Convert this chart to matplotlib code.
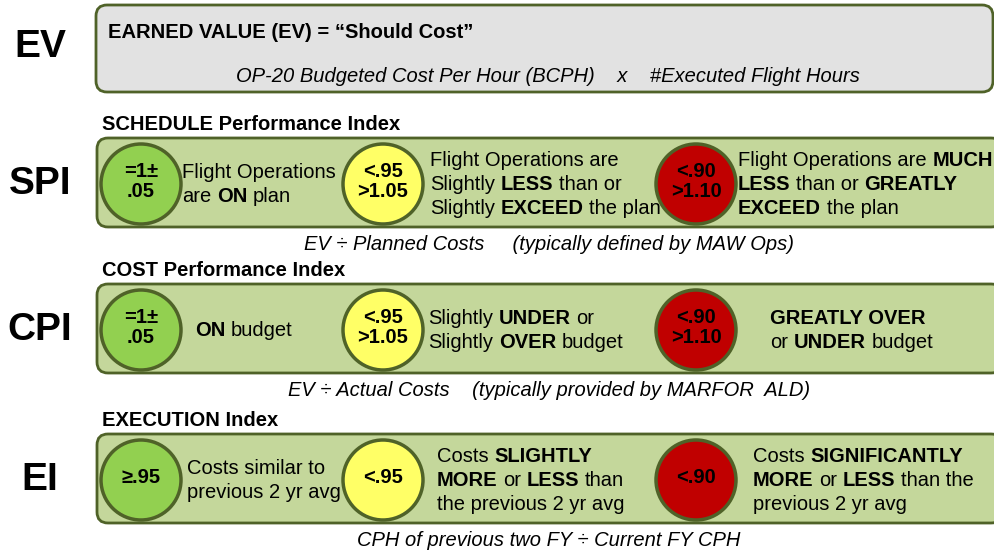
import matplotlib
matplotlib.use("Agg")
import matplotlib.pyplot as plt
from matplotlib.patches import FancyBboxPatch, Circle

plt.rcParams['font.family'] = ['Liberation Sans', 'DejaVu Sans']

# contenido del diagrama
ev_title = 'EARNED VALUE (EV) = \u201cShould Cost\u201d'
ev_formula = 'OP-20 Budgeted Cost Per Hour (BCPH)    x    #Executed Flight Hours'
row_labels = ['SPI', 'CPI', 'EI']
headers = ['SCHEDULE Performance Index', 'COST Performance Index', 'EXECUTION Index']
captions = ['EV \u00f7 Planned Costs     (typically defined by MAW Ops)',
            'EV \u00f7 Actual Costs    (typically provided by MARFOR  ALD)',
            'CPH of previous two FY \u00f7 Current FY CPH']
thresholds = [['=1\u00b1\n.05', '<.95\n>1.05', '<.90\n>1.10'],
              ['=1\u00b1\n.05', '<.95\n>1.05', '<.90\n>1.10'],
              ['\u2265.95', '<.95', '<.90']]
status_colors = ['#92D050', '#FFFF66', '#C00000']
descriptions = [
    [['Flight Operations', 'are **ON** plan'],
     ['Flight Operations are', 'Slightly **LESS** than or', 'Slightly **EXCEED** the plan'],
     ['Flight Operations are **MUCH**', '**LESS** than or **GREATLY**', '**EXCEED** the plan']],
    [['**ON** budget'],
     ['Slightly **UNDER** or', 'Slightly **OVER** budget'],
     ['**GREATLY OVER**', 'or **UNDER** budget']],
    [['Costs similar to', 'previous 2 yr avg'],
     ['Costs **SLIGHTLY**', '**MORE** or **LESS** than', 'the previous 2 yr avg'],
     ['Costs **SIGNIFICANTLY**', '**MORE** or **LESS** than the', 'previous 2 yr avg']],
]

# geometria (pixeles)
box_tops = [138, 284, 434]
box_h = 89
circle_x = [141, 383, 696]
text_x = [[182, 430, 738], [195, 428, 770], [187, 437, 753]]
edge = '#4F6228'

fig = plt.figure(figsize=(9.95, 5.56), dpi=100)
ax = fig.add_axes([0, 0, 1, 1])
ax.set_xlim(0, 995)
ax.set_ylim(556, 0)
ax.axis('off')
renderer = fig.canvas.get_renderer()


def text_width(s, size, bold):
    t = ax.text(0, 0, s, fontsize=size, fontweight='bold' if bold else 'normal')
    w = t.get_window_extent(renderer).width
    t.remove()
    return w


def rich_line(x, y, line, size):
    parts = line.split('**')
    space = text_width('a a', size, False) - text_width('aa', size, False)
    for i, part in enumerate(parts):
        if not part:
            continue
        bold = i % 2 == 1
        lead = len(part) - len(part.lstrip(' '))
        x += lead * space
        core = part.strip(' ')
        if core:
            t = ax.text(x, y, core, fontsize=size, va='baseline', ha='left',
                        fontweight='bold' if bold else 'normal', color='black')
            x += t.get_window_extent(renderer).width
        trail = len(part) - len(part.rstrip(' '))
        x += trail * space


# EV
ax.add_patch(FancyBboxPatch((96, 5), 897, 87, boxstyle='round,pad=0,rounding_size=11',
                            fc='#E2E2E2', ec=edge, lw=2))
ax.text(40, 47, 'EV', fontsize=28, fontweight='heavy', ha='center', va='center')
ax.text(108, 32, ev_title, fontsize=14.5, fontweight='bold', ha='left', va='center')
ax.text(548, 76, ev_formula, fontsize=14.5, style='italic', ha='center', va='center')

for r, top in enumerate(box_tops):
    ax.text(102, top - 13, headers[r], fontsize=14.5, fontweight='bold', ha='left', va='center')
    ax.add_patch(FancyBboxPatch((97, top), 905, box_h, boxstyle='round,pad=0,rounding_size=11',
                                fc='#C4D79B', ec=edge, lw=2))
    ax.text(40, top + 46, row_labels[r], fontsize=28, fontweight='heavy', ha='center', va='center')
    cy = top + 46
    for c in range(3):
        ax.add_patch(Circle((circle_x[c], cy), 40, fc=status_colors[c], ec=edge, lw=2.5, zorder=3))
        ax.text(circle_x[c], cy - 2.5, thresholds[r][c], fontsize=14.5, fontweight='bold',
                ha='center', va='center', linespacing=1.1, zorder=4)
        lines = descriptions[r][c]
        y0 = top + 45 - (len(lines) - 1) * 24 / 2
        for k, line in enumerate(lines):
            rich_line(text_x[r][c], y0 + k * 24 + 7, line, 14.5)
    ax.text(549, top + box_h + 17, captions[r], fontsize=14.5, style='italic',
            ha='center', va='center')

fig.savefig('out.png', dpi=100)
